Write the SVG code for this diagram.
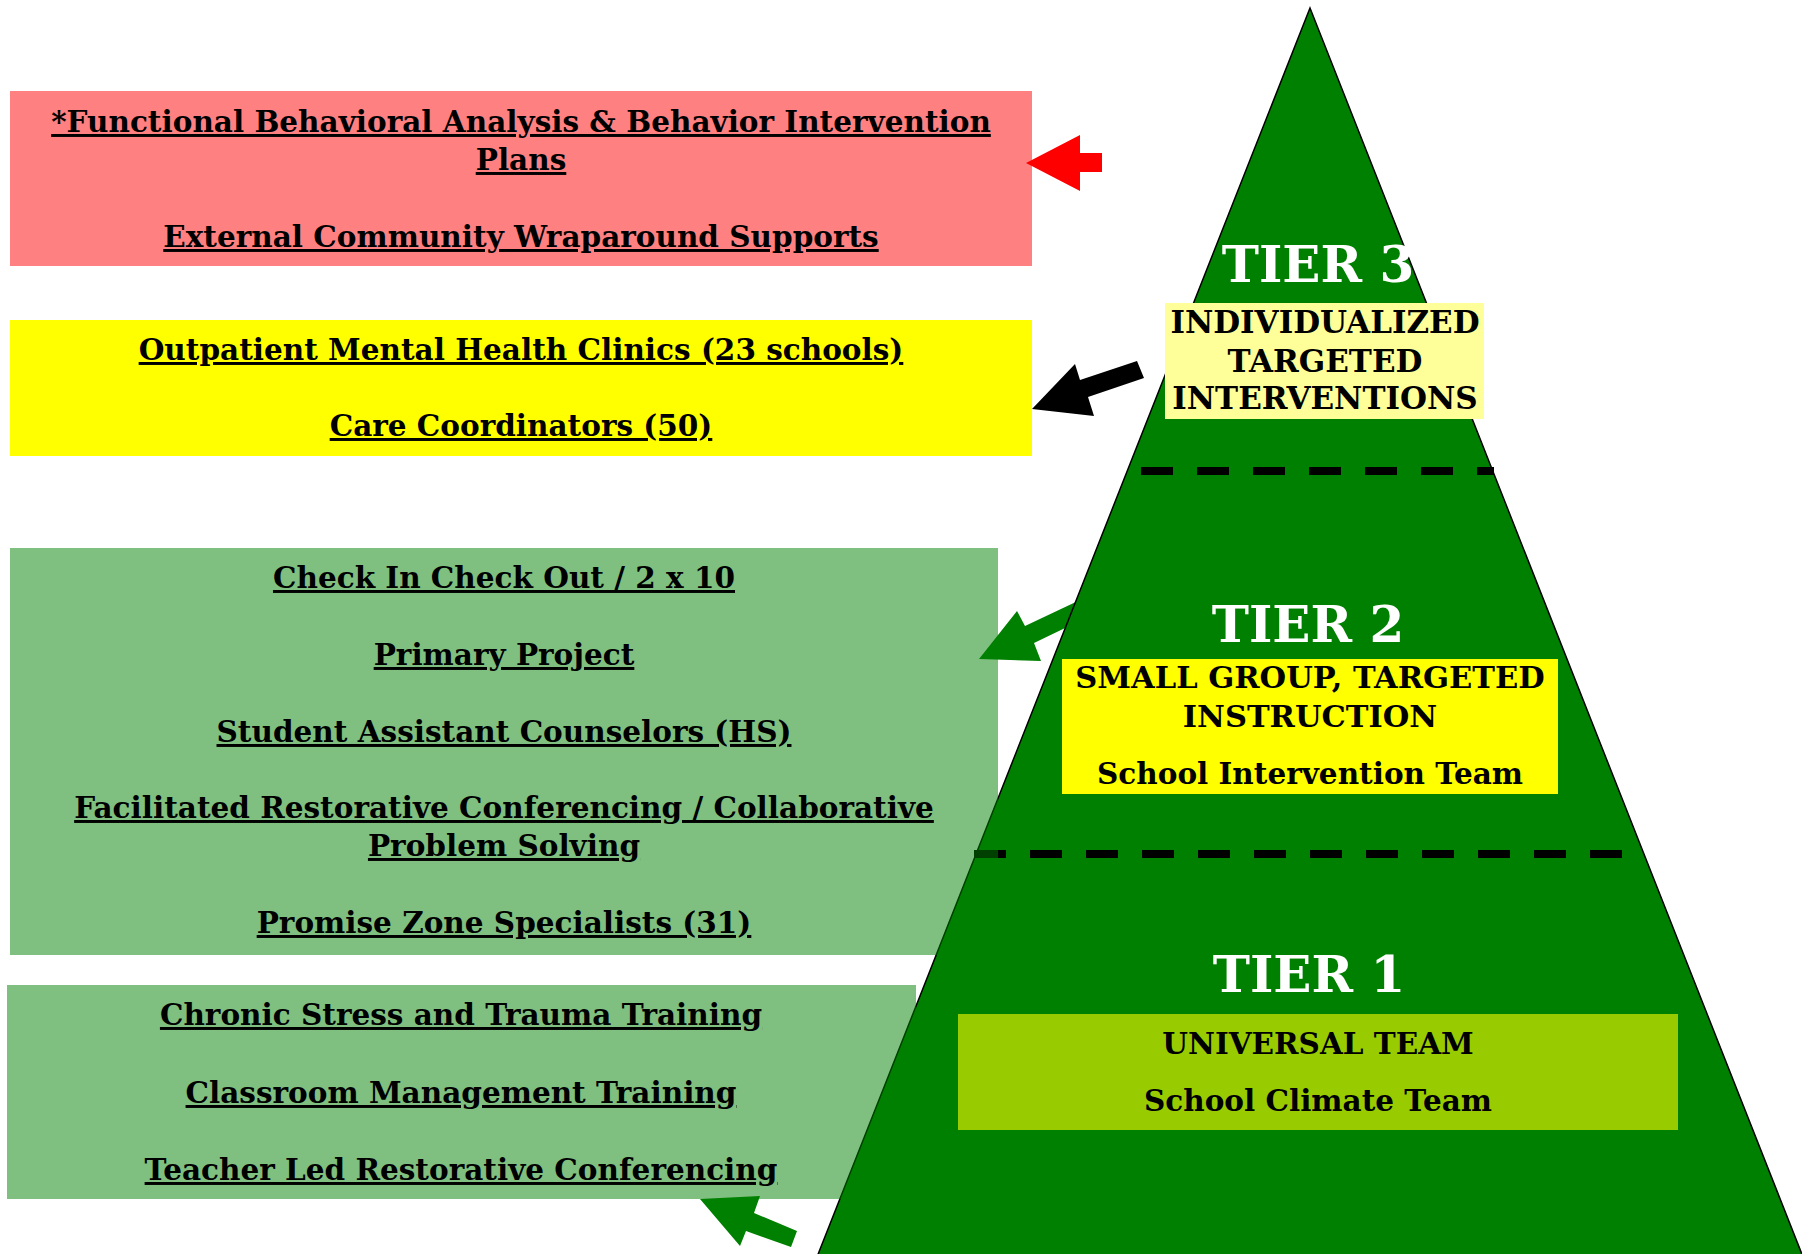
<svg xmlns="http://www.w3.org/2000/svg" width="1802" height="1254" viewBox="0 0 1802 1254">
<style>
.t{font-family:"DejaVu Serif","Liberation Serif",serif;font-weight:bold;font-size:29.5px;text-anchor:middle;fill:#000}
.u{text-decoration:underline}
.cap{font-size:31px}
.cap2{font-size:30.5px}
.tier{font-size:50px;fill:#fff}
.gbox{fill:#008000;fill-opacity:0.5}
.dash{stroke:#000;stroke-width:8;stroke-dasharray:32 24;fill:none}
</style>
<rect width="1802" height="1254" fill="#fff"/>
<g id="connectors">
<polygon id="arrow-tier2" points="979,659 1017,611 1025,626 1080,600 1090,616 1034,643 1041,661" fill="#008000"/>
</g>
<g id="pyramid">
<polygon points="1310,8 815,1262 1805,1262" fill="#008000" stroke="#000" stroke-width="1.5"/>
<line class="dash" x1="1141" y1="471" x2="1494" y2="471"/>
<line class="dash" x1="974" y1="854" x2="1622" y2="854"/>
</g>
<g id="tier3">
<text class="t tier" x="1318" y="282">TIER 3</text>
<rect x="1165" y="303" width="319" height="116" fill="#FFFF99"/>
<text class="t cap" x="1325" y="333">INDIVIDUALIZED</text>
<text class="t cap" x="1325" y="372">TARGETED</text>
<text class="t cap" x="1325" y="409">INTERVENTIONS</text>
</g>
<g id="tier2">
<text class="t tier" x="1308" y="642">TIER 2</text>
<rect x="1062" y="659" width="496" height="135" fill="#FFFF00"/>
<text class="t cap2" x="1310" y="688">SMALL GROUP, TARGETED</text>
<text class="t cap2" x="1310" y="727">INSTRUCTION</text>
<text class="t" x="1310" y="784">School Intervention Team</text>
</g>
<g id="tier1">
<text class="t tier" x="1309" y="992">TIER 1</text>
<rect x="958" y="1014" width="720" height="116" fill="#99CC00"/>
<text class="t" x="1318" y="1054">UNIVERSAL TEAM</text>
<text class="t" x="1318" y="1111">School Climate Team</text>
</g>
<g id="tier3-supports">
<rect x="10" y="91" width="1022" height="175" fill="#FF8080"/>
<text class="t u" x="521" y="132">*Functional Behavioral Analysis &amp; Behavior Intervention</text>
<text class="t u" x="521" y="170">Plans</text>
<text class="t u" x="521" y="247">External Community Wraparound Supports</text>
</g>
<g id="tier3-clinics">
<rect x="10" y="320" width="1022" height="136" fill="#FFFF00"/>
<text class="t u" x="521" y="360">Outpatient Mental Health Clinics (23 schools)</text>
<text class="t u" x="521" y="436">Care Coordinators (50)</text>
</g>
<g id="tier2-supports">
<rect class="gbox" x="10" y="548" width="988" height="407"/>
<text class="t u" x="504" y="588">Check In Check Out / 2 x 10</text>
<text class="t u" x="504" y="665">Primary Project</text>
<text class="t u" x="504" y="742">Student Assistant Counselors (HS)</text>
<text class="t u" x="504" y="818">Facilitated Restorative Conferencing / Collaborative</text>
<text class="t u" x="504" y="856">Problem Solving</text>
<text class="t u" x="504" y="933">Promise Zone Specialists (31)</text>
</g>
<g id="tier1-supports">
<rect class="gbox" x="7" y="985" width="909" height="214"/>
<text class="t u" x="461" y="1025">Chronic Stress and Trauma Training</text>
<text class="t u" x="461" y="1103">Classroom Management Training</text>
<text class="t u" x="461" y="1180">Teacher Led Restorative Conferencing</text>
</g>
<g id="connectors-front">
<polygon id="arrow-tier3-red" points="1026,163 1080,135 1080,153 1102,153 1102,172 1080,172 1080,191" fill="#FF0000"/>
<polygon id="arrow-tier3-black" points="1032,409 1075,364 1080,380 1137,361 1144,378 1088,397 1094,416" fill="#000"/>
<polygon id="arrow-tier1" points="700,1199 760,1196 754,1213 797,1231 791,1247 746,1231 740,1246" fill="#008000"/>
</g>
</svg>
